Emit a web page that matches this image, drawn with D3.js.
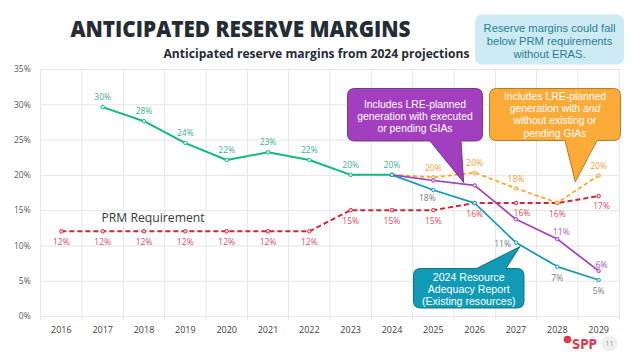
<!DOCTYPE html>
<html><head><meta charset="utf-8">
<script src="https://cdn.jsdelivr.net/npm/d3@7"></script>
<style>
html,body{margin:0;padding:0;background:#fff;}
svg{display:block;font-family:"Open Sans","Noto Sans",sans-serif;}
</style></head>
<body>
<svg id="c" width="631" height="353"></svg>
<script>
// ---- data ----
const years = [2016,2017,2018,2019,2020,2021,2022,2023,2024,2025,2026,2027,2028,2029];
const historicYears = [2017,2018,2019,2020,2021,2022,2023,2024];
const historicValues = [29.6,27.6,24.5,22.1,23.2,22.1,20.0,20.0];
const historicLabels = ["30%","28%","24%","22%","23%","22%","20%","20%"];
const prmYears = years;
const prmValues = [12,12,12,12,12,12,12,15,15,15,16,16,16,17];
const prmLabels = ["12%","12%","12%","12%","12%","12%","12%","15%","15%","15%","16%","16%","16%","17%"];
const projYears = [2024,2025,2026,2027,2028,2029];
const lreAllValues = [20.0,19.65,20.3,18.1,16.05,19.9];
const lreAllLabels = [null,"20%","20%","18%",null,"20%"];
const lreGiaValues = [20.0,19.2,18.5,13.7,10.9,6.4];
const lreGiaLabels = [null,null,null,null,"11%","6%"];
const raValues = [20.0,17.85,16.0,10.4,7.0,5.1];
const raLabels = [null,"18%",null,"11%","7%","5%"];
const yTicks = [0,5,10,15,20,25,30,35];

(function(){
const svg = d3.select("#c");
const pL = 40.7, pR = 619.3, pT = 69, pB = 316;
const boxFont = "Liberation Sans, Arial, sans-serif";

const x = d3.scaleBand().domain(years).range([pL,pR]).padding(0);
const cx = d => x(d) + x.bandwidth()/2;
const y = d3.scaleLinear().domain([0,35]).range([pB,pT]);

// grid: horizontal
const gy = svg.append("g").attr("transform",`translate(${pL},0)`)
  .call(d3.axisLeft(y).tickValues(yTicks).tickSize(-(pR-pL)).tickFormat(d=>d+"%").tickPadding(10));
gy.select(".domain").remove();
gy.selectAll(".tick line").attr("stroke","#e4e6e8").attr("stroke-width",1);
gy.selectAll(".tick text").attr("fill","#595959").style("font-size","8.5px").attr("font-family","Open Sans");

// grid: vertical (band boundaries)
const bounds = years.map(d=>x(d)).concat([pR]);
svg.append("g").selectAll("line").data(bounds).join("line")
  .attr("x1",d=>d).attr("x2",d=>d).attr("y1",pT).attr("y2",pB+4)
  .attr("stroke","#e4e6e8").attr("stroke-width",1);

// x axis labels
const gx = svg.append("g").attr("transform",`translate(0,${pB})`)
  .call(d3.axisBottom(x).tickSize(0).tickPadding(11));
gx.select(".domain").remove();
gx.selectAll(".tick text").attr("fill","#404040").style("font-size","9px").attr("font-family","Open Sans");

function drawSeries(xs, vs, color, width, dash, mfill){
  const pts = xs.map((d,i)=>[cx(d), y(vs[i])]);
  svg.append("path").attr("d", d3.line()(pts)).attr("fill","none")
    .attr("stroke",color).attr("stroke-width",width)
    .attr("stroke-dasharray",dash||null).attr("stroke-linejoin","round");
  svg.append("g").selectAll("circle").data(pts).join("circle")
    .attr("cx",d=>d[0]).attr("cy",d=>d[1]).attr("r",1.8)
    .attr("fill",mfill).attr("stroke",color).attr("stroke-width",0.9);
}
function drawLabels(xs, vs, labels, color, pos){
  const g = svg.append("g").style("font-size","8.5px").attr("fill",color);
  xs.forEach((d,i)=>{
    if(!labels[i]) return;
    const p = pos(d,i);
    g.append("text").attr("x",cx(d)+p[0]).attr("y",y(vs[i])+p[1])
      .attr("text-anchor",p[2]||"middle").text(labels[i]);
  });
}

const cGreen="#12b886", cRed="#d0253a", cOrange="#f9a62b", cPurple="#a03fc0", cBlue="#1399b6";

drawSeries(historicYears, historicValues, cGreen, 2, null, "#c9f0e2");
drawSeries(prmYears, prmValues, cRed, 2, "5,3", "#f6c9cf");
drawSeries(projYears, lreAllValues, cOrange, 1.8, "4,3", "#fde2b6");
drawSeries(projYears, lreGiaValues, cPurple, 1.7, null, "#e3c6ee");
drawSeries(projYears, raValues, cBlue, 1.7, null, "#c3e8f0");

drawLabels(historicYears, historicValues, historicLabels, "#3bb093", ()=>[0,-7]);
drawLabels(prmYears, prmValues, prmLabels, "#e24a62", (d)=> d===2027?[6,12.5]:(d===2029?[3,13]:[0,13.5]));
drawLabels(projYears, lreAllValues, lreAllLabels, "#eea238", ()=>[0,-6.5]);
drawLabels(projYears, lreGiaValues, lreGiaLabels, "#a94ec4", (d)=> d===2029?[3,-2.5]:[4,-4.5]);
drawLabels(projYears, raValues, raLabels, "#72808e", (d)=> d===2027?[-5,4.5,"end"]:(d===2025?[-6,10.5]:[0,14]));

svg.append("text").attr("x",101.5).attr("y",222).attr("fill","#3a3a3a")
  .style("font-size","12.2px").text("PRM Requirement");

function callout(x0,y0,x1,y1,r,side,b1,b2,tx,ty,fill,stroke){
  let p = `M${x0+r},${y0}`;
  if(side==="top"){ p += `L${b1},${y0}L${tx},${ty}L${b2},${y0}`; }
  p += `L${x1-r},${y0}Q${x1},${y0} ${x1},${y0+r}L${x1},${y1-r}Q${x1},${y1} ${x1-r},${y1}`;
  if(side==="bottom"){ p += `L${b2},${y1}L${tx},${ty}L${b1},${y1}`; }
  p += `L${x0+r},${y1}Q${x0},${y1} ${x0},${y1-r}L${x0},${y0+r}Q${x0},${y0} ${x0+r},${y0}Z`;
  svg.append("path").attr("d",p).attr("fill",fill).attr("stroke",stroke).attr("stroke-width",0.9);
}
function lines(cxp, baselines, strs, color, size){
  strs.forEach((s,i)=>{
    const t = svg.append("text").attr("fill",color).style("font-size",size+"px")
      .attr("font-family",boxFont).attr("text-anchor","middle")
      .attr("x",cxp).attr("y",baselines[i]);
    if(Array.isArray(s)){ s.forEach(part=>{ const sp=t.append("tspan").text(part[0]); if(part[1]) sp.style("font-style","italic"); }); }
    else t.text(s);
  });
}

callout(347.5,88.5,482.5,141,7,"bottom",430,461,cx(2026)-11,y(lreGiaValues[2])-3,"#a23fbf","#6e2a85");
lines(415,[107.5,119.5,131.5],["Includes LRE-planned","generation with executed","or pending GIAs"],"#fff",10.4);

callout(489.5,88.5,620.5,140.5,7,"bottom",565,597,cx(2028)+18,y(19.0),"#fcaa38","#a8741e");
lines(555,[99.8,112.1,124.4,136.7],["Includes LRE-planned",[["generation with "],["and",true]],"without existing or","pending GIAs"],"#fff",10.4);

callout(413.5,268.5,524,308,7,"top",476.5,506,cx(2027)+4,y(raValues[3])+4,"#119ab6","#0b6679");
lines(468.7,[280.8,293.1,305.4],["2024 Resource","Adequacy Report","(Existing resources)"],"#fff",10.6);

svg.append("text").attr("x",70.5).attr("y",37.3).attr("fill","#262c33")
  .style("font-size","22px").style("font-weight","800").attr("textLength",340).attr("lengthAdjust","spacingAndGlyphs")
  .text("ANTICIPATED RESERVE MARGINS");
svg.append("text").attr("x",163.5).attr("y",58.3).attr("fill","#262c33")
  .style("font-size","12.5px").style("font-weight","700").attr("textLength",306).attr("lengthAdjust","spacingAndGlyphs")
  .text("Anticipated reserve margins from 2024 projections");

svg.append("rect").attr("x",475).attr("y",14.5).attr("width",149).attr("height",50).attr("rx",7)
  .attr("fill","#cdebf4");
lines(549.5,[31.5,44.5,57.5],["Reserve margins could fall","below PRM requirements","without ERAS."],"#2b7d96",11.2);

svg.append("circle").attr("cx",567.5).attr("cy",339.5).attr("r",3.8).attr("fill","#e0384a");
svg.append("text").attr("x",572).attr("y",349.3).attr("fill","#e0384a").style("font-size","14.5px")
  .style("font-weight","700").attr("font-family","Liberation Sans Narrow, DejaVu Sans Condensed, sans-serif")
  .attr("textLength",25).attr("lengthAdjust","spacingAndGlyphs").text("SPP");
svg.append("circle").attr("cx",609.5).attr("cy",343.5).attr("r",8).attr("fill","#efefef");
svg.append("text").attr("x",609.5).attr("y",346.3).attr("text-anchor","middle").attr("fill","#a0a0a0")
  .style("font-size","7.5px").text("11");
})();
</script>
</body></html>
